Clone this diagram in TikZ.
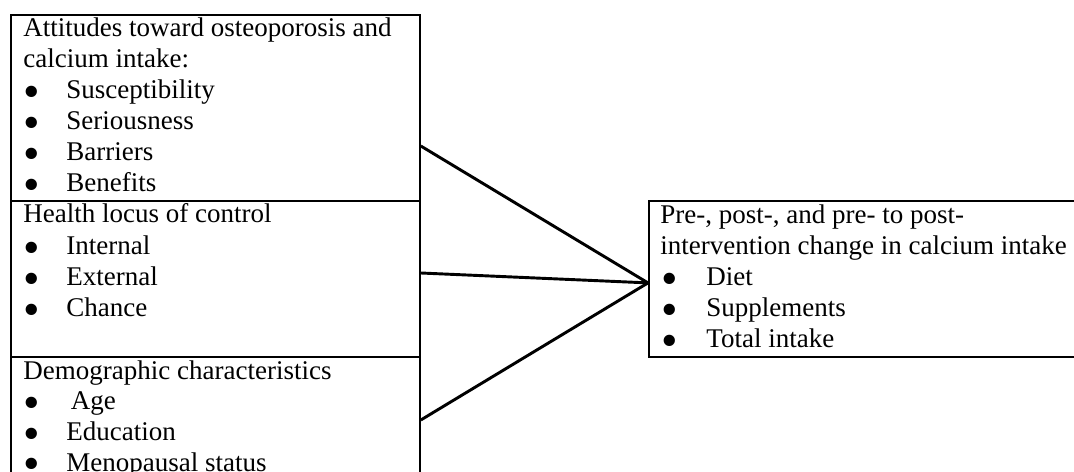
\documentclass[tikz,border=0pt]{standalone}
\usepackage{fontspec}
\setmainfont{Liberation Serif}
\usetikzlibrary{calc}
\newcommand{\bigbul}{\raisebox{-3.6pt}[0pt][0pt]{\scalebox{1.75}{•}}}
\newcommand{\bulL}{\makebox[19.1pt][l]{\bigbul}}
\newcommand{\bulR}{\makebox[20.0pt][l]{\bigbul}}
\begin{document}
\begin{tikzpicture}[x=0.4444pt,y=-0.4444pt,
  box/.style={draw, line width=0.8pt, rectangle, inner sep=0pt, anchor=north west},
  txt/.style={anchor=base west, inner sep=0pt, font=\fontsize{12}{13.8}\selectfont},
  link/.style={line width=1.3pt}]
\useasboundingbox (0,0) rectangle (1074,472);
\fill[white] (0,0) rectangle (1074,472);
\clip (0,0) rectangle (1074,472);
% left boxes
\node[box, minimum width={409*0.4444pt}, minimum height={186*0.4444pt}] (att) at (10,14) {};
\node[box, minimum width={409*0.4444pt}, minimum height={156*0.4444pt}] (hlc) at (10,200) {};
\node[box, minimum width={409*0.4444pt}, minimum height={150*0.4444pt}] (dem) at (10,356) {};
% right box
\node[box, minimum width={470*0.4444pt}, minimum height={156*0.4444pt}] (res) at (648,200) {};
% texts of box 1
\node[txt] (a0) at (23,37) {Attitudes toward osteoporosis and};
\node[txt] (a1) at (23,68) {calcium intake:};
\node[txt] (a2) at (23,99) {\bulL Susceptibility};
\node[txt] (a3) at (23,130) {\bulL Seriousness};
\node[txt] (a4) at (23,161) {\bulL Barriers};
\node[txt] (a5) at (23,192) {\bulL Benefits};
% texts of box 2
\node[txt] (h0) at (23,223) {Health locus of control};
\node[txt] (h1) at (23,255) {\bulL Internal};
\node[txt] (h2) at (23,286) {\bulL External};
\node[txt] (h3) at (23,317) {\bulL Chance};
% texts of box 3
\node[txt] (d0) at (23,380) {Demographic characteristics};
\node[txt] (d1) at (23,410) {\bulL\hspace{2pt}Age};
\node[txt] (d2) at (23,441) {\bulL Education};
\node[txt] (d3) at (23,471) {\bulL Menopausal status};
% texts of right box
\node[txt] (r0) at (660,224) {Pre-, post-, and pre- to post-};
\node[txt] (r1) at (660,255) {intervention change in calcium intake};
\node[txt] (r2) at (661,286) {\bulR Diet};
\node[txt] (r3) at (661,317) {\bulR Supplements};
\node[txt] (r4) at (661,348) {\bulR Total intake};
% connectors
\coordinate (s1) at ($(att.north east)+(0,132)$);
\coordinate (s2) at ($(hlc.north east)+(0,73)$);
\coordinate (s3) at ($(dem.north east)+(0,64)$);
\coordinate (tip) at ($(res.west)+(0,4)$);
\draw[link] (s1) -- (tip);
\draw[link] (s2) -- (tip);
\draw[link] (s3) -- (tip);
\end{tikzpicture}
\end{document}
